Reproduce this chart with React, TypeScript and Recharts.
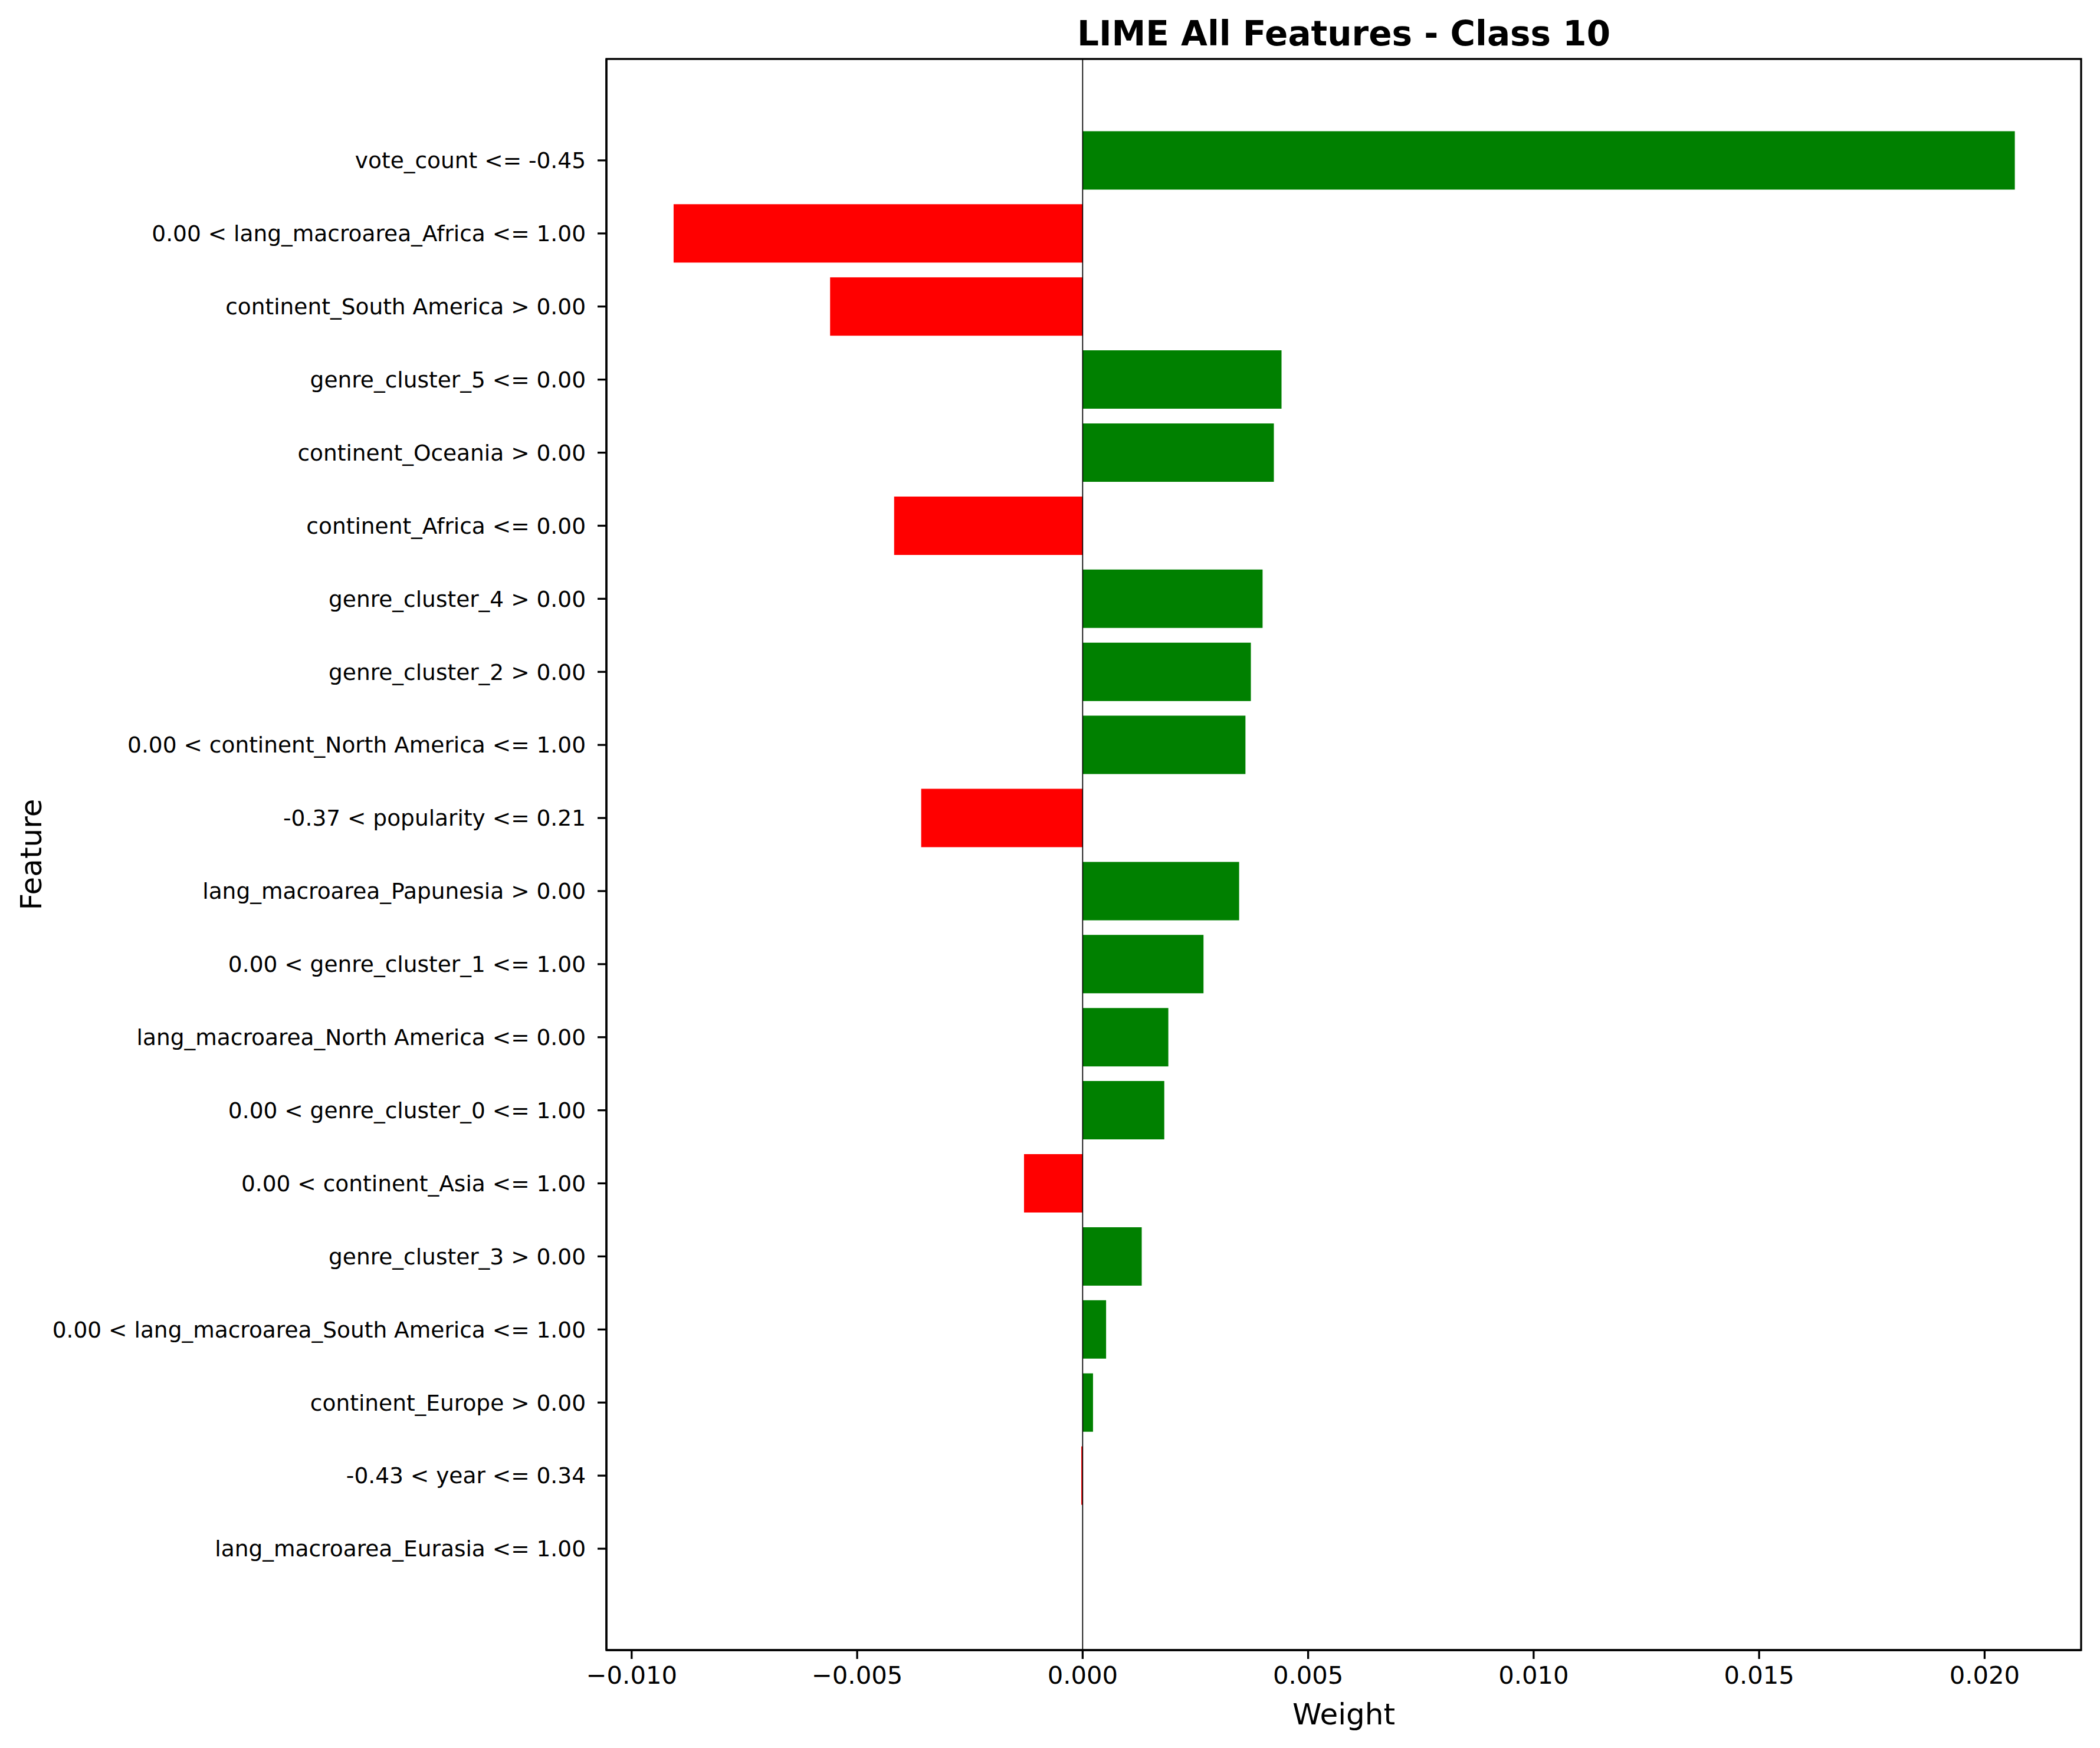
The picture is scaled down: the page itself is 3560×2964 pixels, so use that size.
import React from "react";
import {
  BarChart,
  Bar,
  Cell,
  XAxis,
  YAxis,
  ReferenceLine,
  Customized,
} from "recharts";

const features = [
  "vote_count <= -0.45",
  "0.00 < lang_macroarea_Africa <= 1.00",
  "continent_South America > 0.00",
  "genre_cluster_5 <= 0.00",
  "continent_Oceania > 0.00",
  "continent_Africa <= 0.00",
  "genre_cluster_4 > 0.00",
  "genre_cluster_2 > 0.00",
  "0.00 < continent_North America <= 1.00",
  "-0.37 < popularity <= 0.21",
  "lang_macroarea_Papunesia > 0.00",
  "0.00 < genre_cluster_1 <= 1.00",
  "lang_macroarea_North America <= 0.00",
  "0.00 < genre_cluster_0 <= 1.00",
  "0.00 < continent_Asia <= 1.00",
  "genre_cluster_3 > 0.00",
  "0.00 < lang_macroarea_South America <= 1.00",
  "continent_Europe > 0.00",
  "-0.43 < year <= 0.34",
  "lang_macroarea_Eurasia <= 1.00",
];

const weights = [
  0.02067, -0.00907, -0.0056, 0.00441, 0.00424, -0.00418, 0.00399, 0.00373,
  0.00361, -0.00358, 0.00347, 0.00268, 0.0019, 0.00181, -0.0013, 0.00131,
  0.00052, 0.00023, -0.00003, 0.0,
];

const xTicks = [-0.01, -0.005, 0, 0.005, 0.01, 0.015, 0.02];
const xDomain = [-0.01056, 0.02214];

const FONT = "DejaVu Sans, sans-serif";
const X_TICK_FONT = 41.7;
const Y_TICK_FONT = 37.5;
const LABEL_FONT = 50;
const TITLE_FONT = 58;
const SPINE = 3.3;

const W = 3560;
const H = 2964;
const PLOT_LEFT = 1028;
const PLOT_TOP = 100;
const PLOT_RIGHT = 32;
const PLOT_BOTTOM = 166;

const chartData = features.map((feature, i) => ({ feature, weight: weights[i] }));

const fmt = (v: number) => {
  const s = Math.abs(v).toFixed(3);
  return v < 0 ? "\u2212" + s : s;
};

// title, axis labels and the axes frame (matplotlib spines)
function Labels() {
  const pw = W - PLOT_LEFT - PLOT_RIGHT;
  const ph = H - PLOT_TOP - PLOT_BOTTOM;
  const cx = PLOT_LEFT + pw / 2;
  const cy = PLOT_TOP + ph / 2;
  return (
    <g>
      <rect
        x={PLOT_LEFT}
        y={PLOT_TOP}
        width={pw}
        height={ph}
        fill="none"
        stroke="#000"
        strokeWidth={SPINE}
      />
      <text
        x={cx}
        y={77}
        textAnchor="middle"
        fontFamily={FONT}
        fontWeight="bold"
        fontSize={TITLE_FONT}
        fill="#000"
      >
        LIME All Features - Class 10
      </text>
      <text
        x={cx}
        y={2924}
        textAnchor="middle"
        fontFamily={FONT}
        fontSize={LABEL_FONT}
        fill="#000"
      >
        Weight
      </text>
      <text
        x={0}
        y={0}
        transform={`translate(70, ${cy}) rotate(-90)`}
        textAnchor="middle"
        fontFamily={FONT}
        fontSize={LABEL_FONT}
        fill="#000"
      >
        Feature
      </text>
    </g>
  );
}

export default function App() {
  return (
    <div style={{ position: "absolute", top: 0, left: 0, width: W, height: H, background: "#fff" }}>
      <BarChart
        width={W}
        height={H}
        data={chartData}
        layout="vertical"
        margin={{ top: PLOT_TOP, right: PLOT_RIGHT, left: 0, bottom: 0 }}
        barCategoryGap="10%"
      >
        <XAxis
          type="number"
          dataKey="weight"
          domain={xDomain}
          ticks={xTicks}
          tickFormatter={fmt}
          height={PLOT_BOTTOM}
          allowDataOverflow
          axisLine={{ stroke: "#000", strokeWidth: SPINE }}
          tickLine={{ stroke: "#000", strokeWidth: SPINE }}
          tickSize={15}
          tickMargin={12}
          tick={{ fontFamily: FONT, fontSize: X_TICK_FONT, fill: "#000" }}
        />
        <YAxis
          type="category"
          dataKey="feature"
          width={PLOT_LEFT}
          padding={{ top: 110, bottom: 110 }}
          interval={0}
          axisLine={{ stroke: "#000", strokeWidth: SPINE }}
          tickLine={{ stroke: "#000", strokeWidth: SPINE }}
          tickSize={15}
          tickMargin={20}
          tick={{ fontFamily: FONT, fontSize: Y_TICK_FONT, fill: "#000" }}
        />
        <Bar dataKey="weight" isAnimationActive={false}>
          {chartData.map((d, i) => (
            <Cell key={i} fill={d.weight > 0 ? "#008000" : "#ff0000"} />
          ))}
        </Bar>
        <ReferenceLine x={0} stroke="#000" strokeWidth={1.7} />
        <Customized component={Labels} />
      </BarChart>
    </div>
  );
}
